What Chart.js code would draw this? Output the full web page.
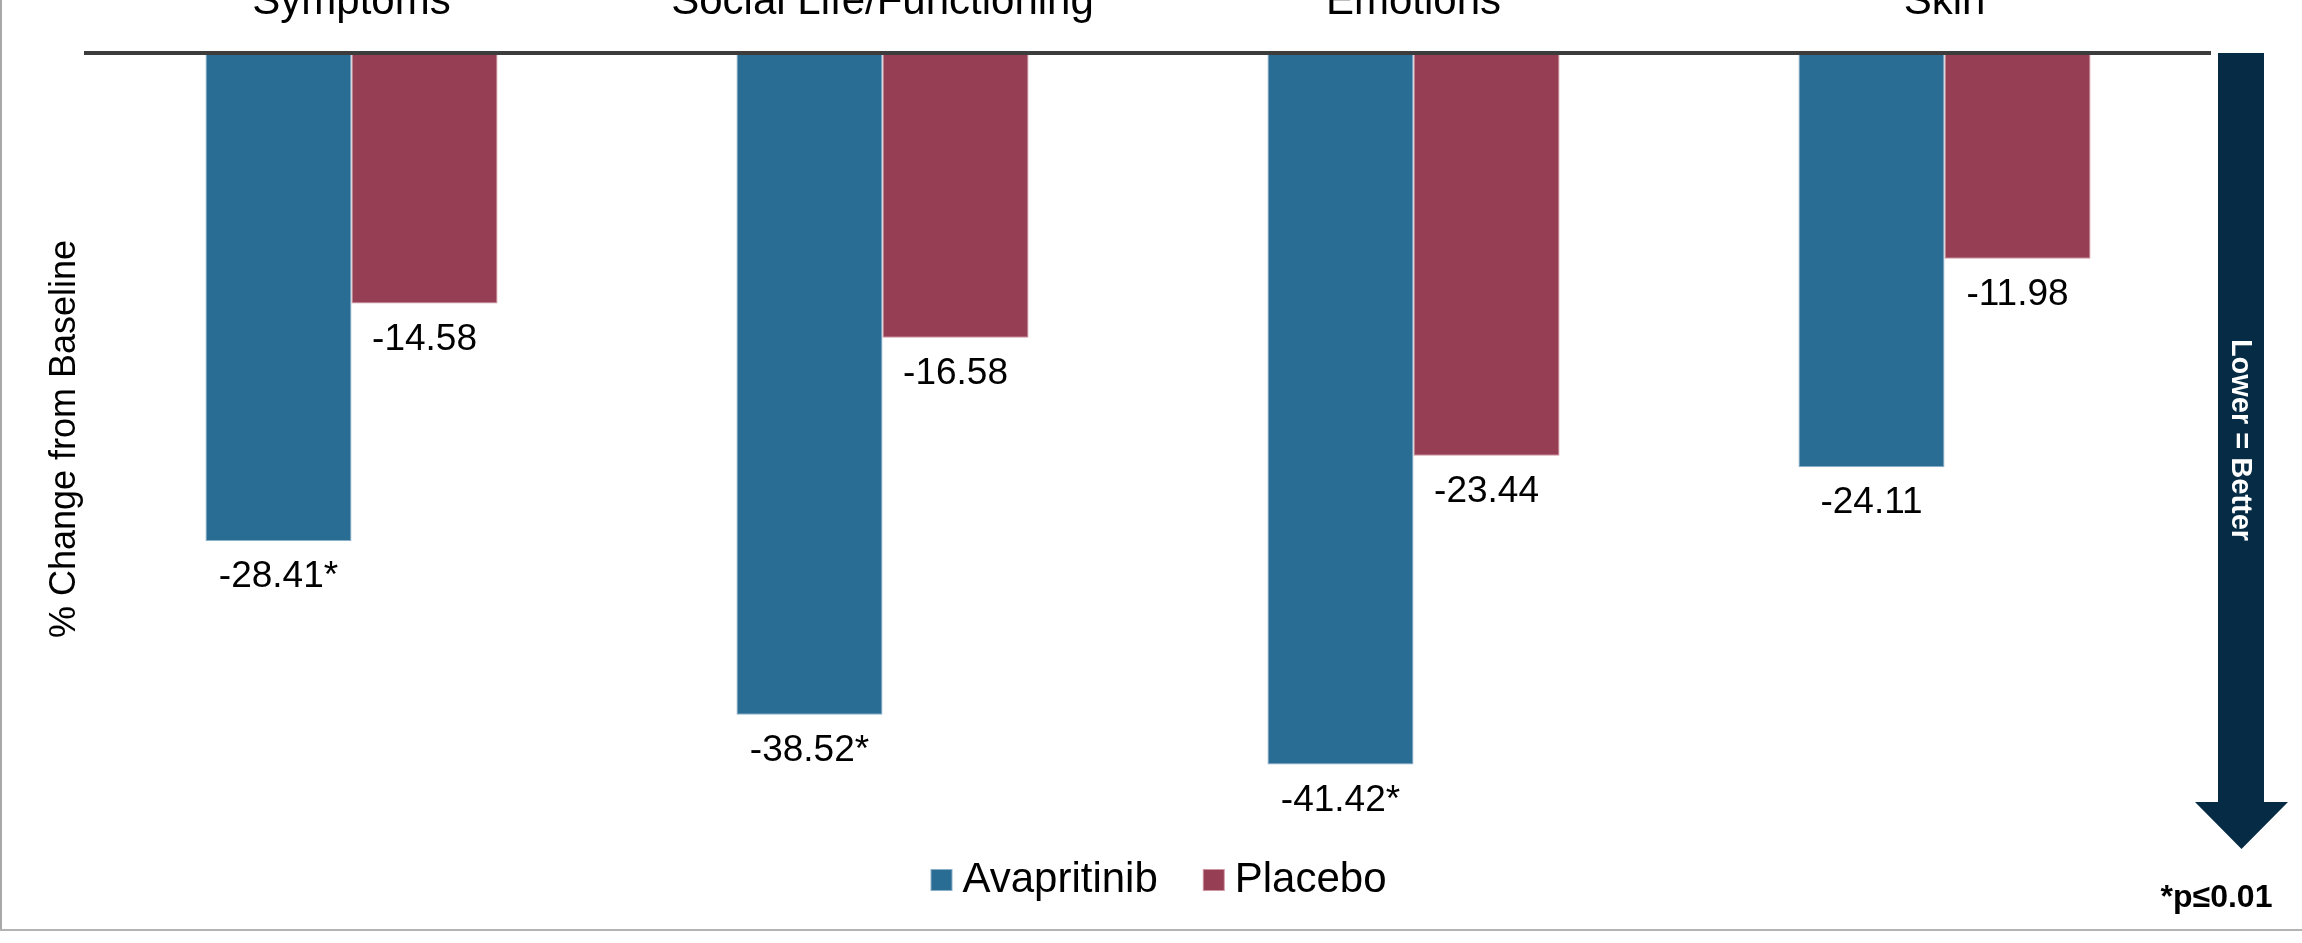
<!DOCTYPE html>
<html>
<head>
<meta charset="utf-8">
<script src="https://cdn.jsdelivr.net/npm/chart.js@4.4.1/dist/chart.umd.min.js"></script>
<style>
  html, body { margin: 0; padding: 0; background: #ffffff; }
  #wrap { position: relative; width: 2302px; height: 943px; overflow: hidden; background: #ffffff; }
  #c { position: absolute; left: 0; top: 0; }
  .frameL { position: absolute; left: 0; top: 0; width: 2px; height: 931px; background: #a9a9a9; }
  .frameB { position: absolute; left: 0; top: 929px; width: 2302px; height: 2px; background: #b3b3b3; }
</style>
</head>
<body>
<div id="wrap">
  <canvas id="c" width="2302" height="943"></canvas>
  <div class="frameL"></div>
  <div class="frameB"></div>
</div>
<script>
// ---- data ----
const categories = ['Symptoms', 'Social Life/Functioning', 'Emotions', 'Skin'];
const avapritinib = [-28.41, -38.52, -41.42, -24.11];
const placebo = [-14.58, -16.58, -23.44, -11.98];
const avapritinibSig = [true, true, true, false];
const placeboSig = [false, false, false, false];
const seriesNames = ['Avapritinib', 'Placebo'];
const yMin = -44.94;
const yMax = 0;
const yTitle = '% Change from Baseline';
const arrowText = 'Lower = Better';
const footnote = '*p\u22640.01';

const FONT = '"Liberation Sans", Arial, Helvetica, sans-serif';
const fills = ['#2a6d94', '#963e54'];
const edges = ['#8db0c9', '#cf95a3'];

// legend swatch: square drawn in the right part of a wider transparent image
function makeSwatch(fill, edge) {
  const cv = document.createElement('canvas');
  cv.width = 66; cv.height = 22;
  const g = cv.getContext('2d');
  g.fillStyle = fill;
  g.fillRect(33, 0, 22, 22);
  g.strokeStyle = edge;
  g.lineWidth = 1;
  g.strokeRect(33.5, 0.5, 21, 21);
  return cv;
}
const swatches = [makeSwatch(fills[0], edges[0]), makeSwatch(fills[1], edges[1])];

const valueLabels = {
  id: 'valueLabels',
  afterDatasetsDraw(chart) {
    const ctx = chart.ctx;
    ctx.save();
    ctx.font = '37px ' + FONT;
    ctx.fillStyle = '#000000';
    ctx.textAlign = 'center';
    ctx.textBaseline = 'middle';
    chart.data.datasets.forEach((ds, i) => {
      const meta = chart.getDatasetMeta(i);
      meta.data.forEach((el, j) => {
        const v = ds.data[j];
        const txt = v.toFixed(2) + (ds.sig[j] ? '*' : '');
        ctx.fillText(txt, el.x, el.y + 36);
      });
    });
    ctx.restore();
  }
};

const arrowNote = {
  id: 'arrowNote',
  afterDraw(chart) {
    const ctx = chart.ctx;
    const ca = chart.chartArea;
    const shaftL = ca.right + 8, shaftR = ca.right + 54;
    const top = ca.top;
    const headY = ca.top + 749, tipY = ca.top + 796;
    const headL = ca.right - 15, headR = ca.right + 78;
    const tipX = (headL + headR) / 2;
    ctx.save();
    ctx.fillStyle = '#062c45';
    ctx.beginPath();
    ctx.moveTo(shaftL, top);
    ctx.lineTo(shaftR, top);
    ctx.lineTo(shaftR, headY);
    ctx.lineTo(headR, headY);
    ctx.lineTo(tipX, tipY);
    ctx.lineTo(headL, headY);
    ctx.lineTo(shaftL, headY);
    ctx.closePath();
    ctx.fill();
    ctx.translate((shaftL + shaftR) / 2 - 1, ca.top + 387);
    ctx.rotate(Math.PI / 2);
    ctx.font = 'bold 29px ' + FONT;
    ctx.fillStyle = '#ffffff';
    ctx.textAlign = 'center';
    ctx.textBaseline = 'middle';
    ctx.fillText(arrowText, 0, 0);
    ctx.restore();
    ctx.save();
    ctx.font = 'bold 32px ' + FONT;
    ctx.fillStyle = '#000000';
    ctx.textAlign = 'center';
    ctx.textBaseline = 'middle';
    ctx.fillText(footnote, tipX - 25, 898);
    ctx.restore();
  }
};

new Chart(document.getElementById('c'), {
  type: 'bar',
  data: {
    labels: categories,
    datasets: [
      {
        label: seriesNames[0],
        data: avapritinib,
        sig: avapritinibSig,
        backgroundColor: fills[0],
        borderColor: edges[0],
        borderWidth: 1,
        categoryPercentage: 0.55,
        barPercentage: 1.0
      },
      {
        label: seriesNames[1],
        data: placebo,
        sig: placeboSig,
        backgroundColor: fills[1],
        borderColor: edges[1],
        borderWidth: 1,
        categoryPercentage: 0.55,
        barPercentage: 1.0
      }
    ]
  },
  options: {
    responsive: false,
    animation: false,
    devicePixelRatio: 1,
    layout: { padding: { left: 4, right: 0, top: 0, bottom: 32 } },
    plugins: {
      legend: {
        display: true,
        position: 'bottom',
        labels: {
          font: { family: FONT, size: 42 },
          color: '#000000',
          usePointStyle: true,
          pointStyleWidth: 22,
          boxWidth: 22,
          boxHeight: 22,
          padding: 34,
          generateLabels(chart) {
            const items = Chart.defaults.plugins.legend.labels.generateLabels(chart);
            items.forEach((it, i) => { it.pointStyle = swatches[i]; });
            return items;
          }
        }
      },
      tooltip: { enabled: false },
      title: { display: false }
    },
    scales: {
      x: {
        type: 'category',
        position: 'top',
        grid: { display: false, drawTicks: false },
        border: { display: true, color: '#3c3c3c', width: 4, z: 1 },
        ticks: {
          font: { family: FONT, size: 42 },
          color: '#000000',
          padding: 25,
          maxRotation: 0,
          autoSkip: false
        },
        afterFit(scale) { scale.height = 53; }
      },
      y: {
        type: 'linear',
        position: 'left',
        min: yMin,
        max: yMax,
        grid: { display: false, drawTicks: false },
        border: { display: false },
        ticks: { display: false },
        title: {
          display: true,
          text: yTitle,
          font: { family: FONT, size: 36 },
          color: '#000000',
          padding: { top: 39, bottom: 0 }
        },
        afterFit(scale) { scale.width = 82; }
      },
      yR: {
        type: 'linear',
        position: 'right',
        min: yMin,
        max: yMax,
        grid: { display: false, drawTicks: false },
        border: { display: false },
        ticks: { display: false },
        afterFit(scale) { scale.width = 92; }
      }
    }
  },
  plugins: [valueLabels, arrowNote]
});
</script>
</body>
</html>
